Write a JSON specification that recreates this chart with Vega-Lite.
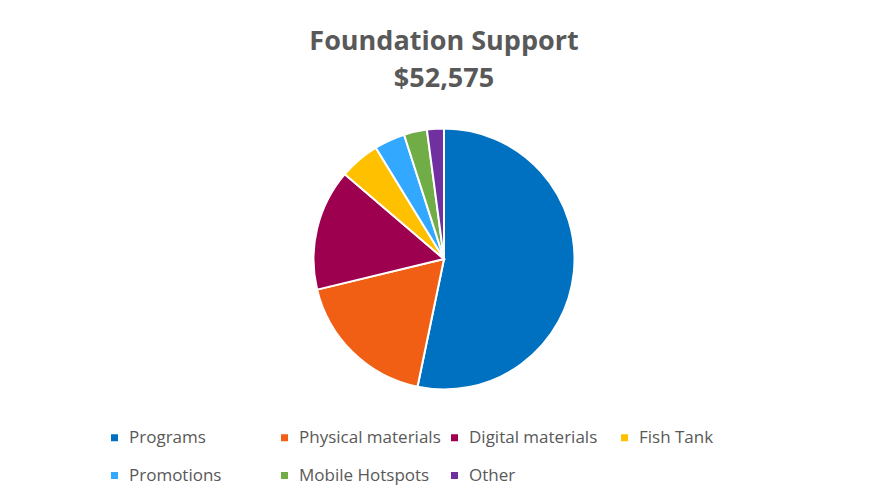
{
  "$schema": "https://vega.github.io/schema/vega-lite/v6.json",
  "autosize": {"type": "none"},
  "width": 854,
  "height": 278,
  "padding": {"left": 17, "top": 120, "right": 0, "bottom": 102},
  "background": "white",
  "title": {
    "text": ["Foundation Support", "$52,575"],
    "font": "Open Sans",
    "fontSize": 27,
    "fontWeight": "bold",
    "color": "#595959",
    "anchor": "middle",
    "lineHeight": 37,
    "offset": 27
  },
  "data": {
    "values": [
      {"category": "Programs", "amount": 28000, "rank": 1},
      {"category": "Physical materials", "amount": 9450, "rank": 2},
      {"category": "Digital materials", "amount": 7900, "rank": 3},
      {"category": "Fish Tank", "amount": 2625, "rank": 4},
      {"category": "Promotions", "amount": 2000, "rank": 5},
      {"category": "Mobile Hotspots", "amount": 1500, "rank": 6},
      {"category": "Other", "amount": 1100, "rank": 7}
    ]
  },
  "mark": {"type": "arc", "radius": 130.5, "stroke": "white", "strokeWidth": 2},
  "encoding": {
    "theta": {"field": "amount", "type": "quantitative", "stack": true},
    "order": {"field": "rank", "type": "quantitative", "sort": "ascending"},
    "color": {
      "field": "category",
      "type": "nominal",
      "sort": ["Programs", "Physical materials", "Digital materials", "Fish Tank", "Promotions", "Mobile Hotspots", "Other"],
      "scale": {
        "domain": ["Programs", "Physical materials", "Digital materials", "Fish Tank", "Promotions", "Mobile Hotspots", "Other"],
        "range": ["#0070C0", "#F05F14", "#9E0050", "#FFC000", "#33A8FF", "#70AD47", "#7030A0"]
      },
      "legend": {
        "orient": "none",
        "direction": "horizontal",
        "legendX": 89,
        "legendY": 309,
        "title": null,
        "columns": 4,
        "gridAlign": "all",
        "columnPadding": 5,
        "rowPadding": 20,
        "padding": 0,
        "symbolType": "square",
        "symbolSize": 49,
        "symbolStrokeWidth": 0,
        "labelOffset": 6,
        "labelFont": "Open Sans",
        "labelFontSize": 17,
        "labelColor": "#595959",
        "labelLimit": 300
      }
    }
  },
  "config": {"view": {"stroke": null}}
}
